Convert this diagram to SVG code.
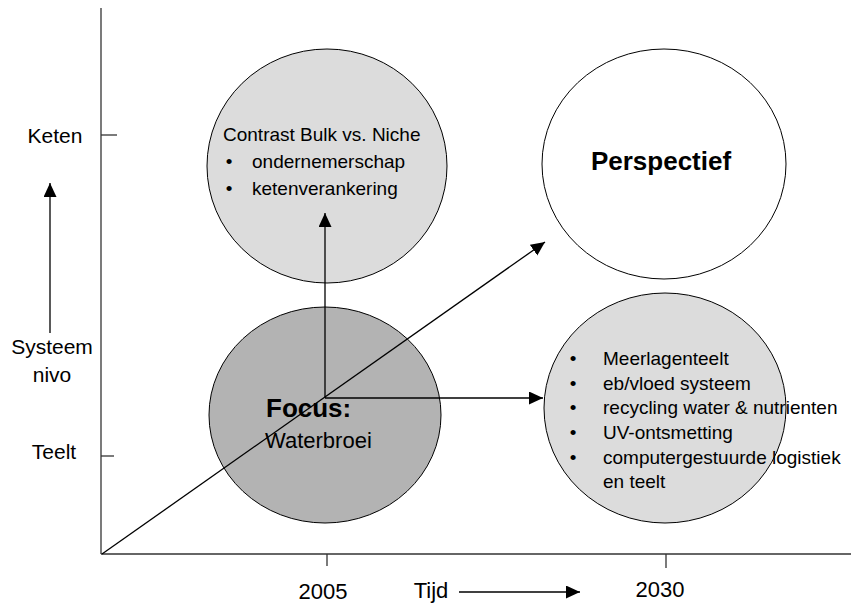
<svg xmlns="http://www.w3.org/2000/svg" width="851" height="606" viewBox="0 0 851 606">
<defs>
<marker id="ah" markerUnits="userSpaceOnUse" markerWidth="15" markerHeight="14" refX="14" refY="6.5" orient="auto">
<path d="M0,0 L14,6.5 L0,13 z" fill="#000"/>
</marker>
<style>
text{font-family:"Liberation Sans",Arial,sans-serif;fill:#000}
.lbl{font-size:21px;text-anchor:middle}
.yr{font-size:22px;text-anchor:middle}
.item{font-size:19px}
.bul{font-size:19px;text-anchor:middle}
.node{stroke:#000;stroke-width:1}
.ax{stroke:#333;stroke-width:1.3;fill:none}
.conn{stroke:#000;stroke-width:1.3;fill:none}
</style>
</defs>
<rect width="851" height="606" fill="#fff"/>
<g id="axes">
<line class="ax" x1="101" y1="8" x2="101" y2="554"/>
<line class="ax" x1="101" y1="554" x2="851" y2="554"/>
<line class="ax" x1="101" y1="135" x2="117" y2="135"/>
<line class="ax" x1="101" y1="456" x2="114" y2="456"/>
<line class="ax" x1="327" y1="554" x2="327" y2="566"/>
<line class="ax" x1="666" y1="554" x2="666" y2="568"/>
<text class="lbl" x="55" y="143">Keten</text>
<text class="lbl" x="52" y="354">Systeem</text>
<text class="lbl" x="52" y="382">nivo</text>
<text class="lbl" x="54" y="459">Teelt</text>
<line class="conn" x1="50" y1="333" x2="50" y2="183" marker-end="url(#ah)"/>
<text class="yr" x="323" y="599">2005</text>
<text class="yr" x="660" y="597">2030</text>
<text class="yr" x="431" y="598">Tijd</text>
<line class="conn" x1="459" y1="592" x2="580" y2="592" marker-end="url(#ah)"/>
</g>
<g id="contrast">
<ellipse class="node" cx="327" cy="166" rx="120" ry="117" fill="#dcdcdc"/>
<text class="item" x="223" y="141">Contrast Bulk vs. Niche</text>
<text class="bul" x="229" y="168">•</text>
<text class="item" x="252" y="168">ondernemerschap</text>
<text class="bul" x="229" y="195">•</text>
<text class="item" x="252" y="195">ketenverankering</text>
</g>
<g id="perspectief">
<ellipse class="node" cx="664" cy="164" rx="122" ry="115" fill="#fff"/>
<text x="661" y="170" style="font-size:26px;font-weight:bold;text-anchor:middle">Perspectief</text>
</g>
<g id="focus">
<ellipse class="node" cx="325" cy="415" rx="116" ry="108" fill="#b3b3b3"/>
<text x="266" y="417" style="font-size:26px;font-weight:bold">Focus:</text>
<text x="265" y="448" style="font-size:22px">Waterbroei</text>
</g>
<g id="maatregelen">
<ellipse class="node" cx="665" cy="408" rx="121" ry="115" fill="#dcdcdc"/>
<text class="bul" x="573" y="365">•</text>
<text class="item" x="603" y="365">Meerlagenteelt</text>
<text class="bul" x="573" y="390">•</text>
<text class="item" x="603" y="390">eb/vloed systeem</text>
<text class="bul" x="573" y="414">•</text>
<text class="item" x="603" y="414">recycling water &amp; nutrienten</text>
<text class="bul" x="573" y="439">•</text>
<text class="item" x="603" y="439">UV-ontsmetting</text>
<text class="bul" x="573" y="464">•</text>
<text class="item" x="603" y="464">computergestuurde logistiek</text>
<text class="item" x="603" y="488">en teelt</text>
</g>
<g id="connectors">
<line class="conn" x1="325" y1="398" x2="325" y2="213" marker-end="url(#ah)"/>
<line class="conn" x1="325" y1="398" x2="543" y2="398" marker-end="url(#ah)"/>
<line class="conn" x1="102" y1="554" x2="545" y2="242" marker-end="url(#ah)"/>
</g>
</svg>
